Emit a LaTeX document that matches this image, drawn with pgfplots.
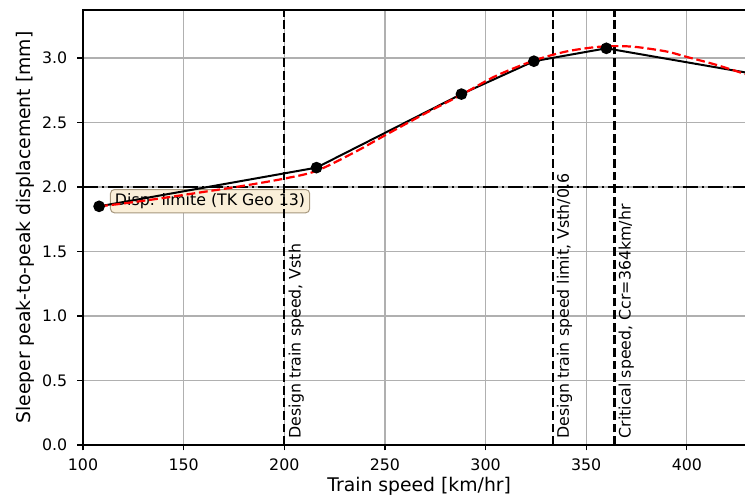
\documentclass[border=0pt]{standalone}
\usepackage{fontspec}
\setmainfont{DejaVu Sans}
\usepackage{pgfplots}
\pgfplotsset{compat=1.18}
\definecolor{gridgray}{RGB}{176,176,176}
\definecolor{wheatbox}{RGB}{250,239,217}
\definecolor{wheatedge}{RGB}{165,150,125}
\begin{document}
\begin{tikzpicture}
\begin{axis}[
  scale only axis,
  width=672.3pt, height=435pt,
  xmin=100, xmax=434, ymin=0, ymax=3.372,
  xtick={100,150,200,250,300,350,400},
  ytick={0,0.5,1,1.5,2,2.5,3},
  /pgf/number format/assume math mode=true,
  y tick label style={/pgf/number format/.cd, fixed, fixed zerofill, precision=1, /tikz/.cd},
  grid=major,
  major grid style={gridgray, line width=1.2pt},
  axis line style={black, line width=1.2pt},
  tick align=outside, tick pos=left, major tick length=5.5pt,
  tick style={black, line width=1.2pt},
  ticklabel style={font=\fontsize{15.8}{18}\selectfont},
  xticklabel style={inner sep=0pt, anchor=north, yshift=-8pt},
  yticklabel style={inner sep=0pt, anchor=east, xshift=-10pt},
  xlabel={Train speed [km/hr]},
  ylabel={Sleeper peak-to-peak displacement [mm]},
  every axis x label/.style={at={(axis description cs:0.5,0)}, anchor=north, yshift=-32pt, inner sep=0pt, font=\fontsize{18.8}{22}\selectfont},
  every axis y label/.style={at={(axis description cs:-0.0863,0.5)}, rotate=90, anchor=center, inner sep=0pt, font=\fontsize{18.8}{22}\selectfont},
]
\node[anchor=west, fill=wheatbox, draw=wheatedge, rounded corners=4pt, inner xsep=4.5pt, inner ysep=4pt, line width=1pt, font=\fontsize{15.8}{18}\selectfont] at (axis cs:113.4,1.89) {Disp. limite (TK Geo 13)};
\addplot[black, line width=2.2pt, dash pattern=on 15pt off 3.8pt on 2.4pt off 3.8pt, forget plot] coordinates {(100,2) (434,2)};
\addplot[black, line width=2.2pt, dash pattern=on 8.8pt off 3.8pt, forget plot] coordinates {(200,0) (200,3.372)};
\addplot[black, line width=2.2pt, dash pattern=on 8.8pt off 3.8pt, forget plot] coordinates {(333.33,0) (333.33,3.372)};
\addplot[black, line width=2.2pt, dash pattern=on 8.8pt off 3.8pt, forget plot] coordinates {(364,0) (364,3.372)};
\addplot[black, line width=2pt, mark=*, mark size=4.8pt, mark options={solid, fill=black}] coordinates {
(108,1.85) (216,2.15) (288,2.72) (324,2.975) (360,3.075) (432,2.88)};
\addplot[red, line width=2.2pt, dash pattern=on 8.8pt off 3.8pt, smooth, no markers] coordinates {
(108,1.850) (120,1.872) (140,1.915) (160,1.962) (180,2.010) (200,2.065) (216,2.125) (235,2.270) (250,2.400) (270,2.570) (288,2.715) (305,2.860) (324,2.980) (340,3.050) (355,3.085) (365,3.092) (375,3.085) (390,3.050) (400,3.008) (415,2.945) (434,2.850)};
\node[rotate=90, anchor=north west, inner sep=0pt, font=\fontsize{15.8}{18}\selectfont] at (axis cs:202,0.05) {Design train speed, Vsth};
\node[rotate=90, anchor=north west, inner sep=0pt, font=\fontsize{15.8}{18}\selectfont] at (axis cs:335.33,0.05) {Design train speed limit, Vsth/0.6};
\node[rotate=90, anchor=north west, inner sep=0pt, font=\fontsize{15.8}{18}\selectfont] at (axis cs:366,0.05) {Critical speed, Ccr=364km/hr};
\end{axis}
\pgfresetboundingbox
\path[use as bounding box] ([shift={(-83pt,-55pt)}]current axis.south west) rectangle ([shift={(662pt,10pt)}]current axis.north west);
\end{tikzpicture}
\end{document}
